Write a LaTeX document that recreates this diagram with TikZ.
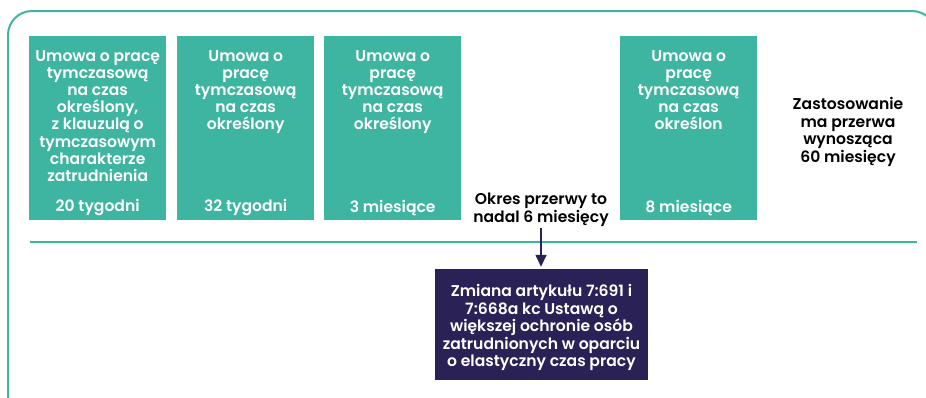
\documentclass[tikz,border=0pt]{standalone}
\usepackage{fontspec}
\setmainfont{Poppins}[BoldFont={* SemiBold}]
\usepackage{tikz}
\usetikzlibrary{positioning}
\usetikzlibrary{arrows.meta}
\usepackage{xcolor}
\definecolor{umteal}{RGB}{62,181,160}
\definecolor{umnavy}{RGB}{42,33,87}

\tikzset{
  umbox/.style={fill=umteal, minimum width=137pt, minimum height=184pt, anchor=north west, inner sep=0pt},
  umtitle/.style={text=white, font=\bfseries\fontsize{15.6}{17.2}\selectfont, align=center, inner sep=0pt},
  umnote/.style={text=black, font=\bfseries\fontsize{15.6}{17.8}\selectfont, align=center, inner sep=0pt},
  framel/.style={draw=umteal, line width=2pt}
}

\begin{document}
\begin{tikzpicture}[x=1pt, y=-1pt]
			    		\useasboundingbox (0,0) rectangle (926,397);
			    		\draw[framel, rounded corners=24pt] (8,410) |- (936,11) -- (936,410);
			    		\coordinate (hl) at (30,242);
			    		\coordinate (hr) at (917,242);
			    		\draw[framel] (hl) -- (hr);
						\node[umbox] (b1) at (29,36) {};
						\node[umbox] (b2) at (177,36) {};
						\node[umbox] (b3) at (324,36) {};
						\node[umbox] (b4) at (620,36) {};
						\node[umtitle, below=14pt of b1.north] (t1) {Umowa o pracę\\tymczasową\\na czas\\określony,\\z klauzulą o\\tymczasowym\\charakterze\\zatrudnienia};
						\node[umtitle, below=14pt of b2.north] (t2) {Umowa o\\pracę\\tymczasową\\na czas\\określony};
						\node[umtitle, below=14pt of b3.north] (t3) {Umowa o\\pracę\\tymczasową\\na czas\\określony};
						\node[umtitle, below=14pt of b4.north] (t4) {Umowa o\\pracę\\tymczasową\\na czas\\określon};
						\node[umtitle, above=4pt of b1.south] (d1) {20 tygodni};
						\node[umtitle, above=4pt of b2.south] (d2) {32 tygodni};
						\node[umtitle, above=4pt of b3.south] (d3) {3 miesiące};
						\node[umtitle, above=4pt of b4.south] (d4) {8 miesiące};
						\node[umnote] (okres) at (541,210) {Okres przerwy to\\nadal 6 miesięcy};
						\node[umnote] (zast) at (848,132) {Zastosowanie\\ma przerwa\\wynosząca\\60 miesięcy};
						\node[fill=umnavy, minimum width=213pt, minimum height=111pt, inner sep=0pt] (zmiana) at (541.5,324.5) {};
						\node[umtitle, font=\bfseries\fontsize{15.6}{17.5}\selectfont] (zmtext) at ([yshift=-3pt]zmiana.center) {Zmiana artykułu 7:691 i\\7:668a kc Ustawą o\\większej ochronie osób\\zatrudnionych w oparciu\\o elastyczny czas pracy};
						\coordinate (arrtop) at (541,228);
						\draw[umnavy, line width=1.5pt, -{Triangle[width=11pt,length=12pt]}, shorten >=2pt] (arrtop) -- (arrtop |- zmiana.north);
			    	\end{tikzpicture}
\end{document}
